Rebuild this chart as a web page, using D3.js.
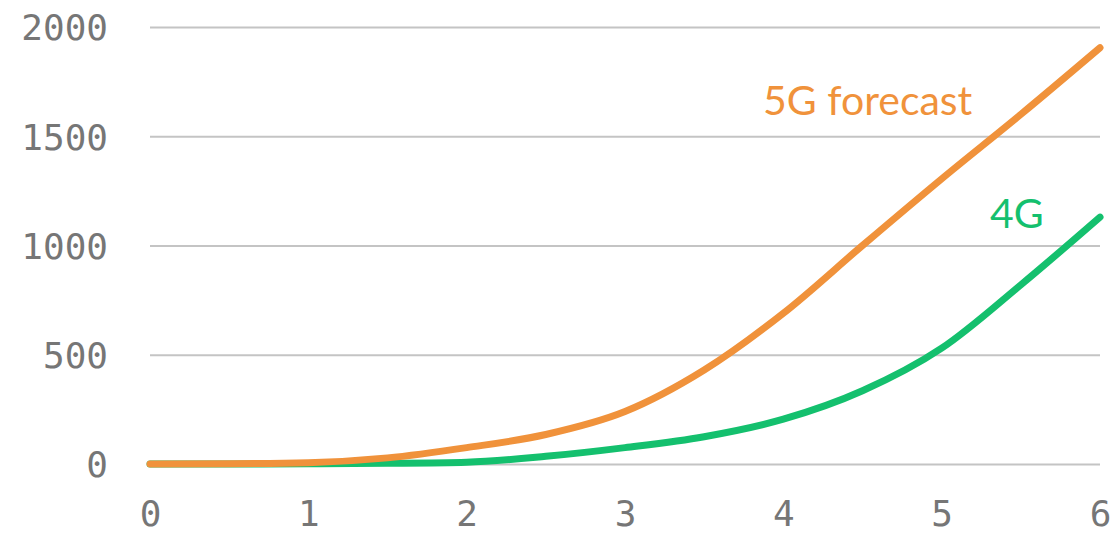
<!DOCTYPE html>
<html>
<head>
<meta charset="utf-8">
<script src="https://cdn.jsdelivr.net/npm/d3@7"></script>
<style>
  html, body { margin: 0; padding: 0; background: #fff; }
  svg { display: block; }
</style>
</head>
<body>
<svg id="chart" width="1115" height="536"></svg>
<script>
// Years since launch and subscriptions (millions)
const years = [0, 0.5, 1, 1.5, 2, 2.5, 3, 3.5, 4, 4.5, 5, 5.5, 6];
const fiveG = [0, 1, 6, 28, 75, 135, 240, 430, 690, 1000, 1305, 1600, 1905];
const fourG = [0, 0, 1, 3, 8, 35, 75, 125, 205, 335, 530, 820, 1130];
const yTicks = [0, 500, 1000, 1500, 2000];
const xTicks = [0, 1, 2, 3, 4, 5, 6];

const svg = d3.select("#chart");
const x = d3.scaleLinear().domain([0, 6]).range([150, 1100]);
const y = d3.scaleLinear().domain([0, 2000]).range([464, 27]);

const mono = "'DejaVu Sans Mono', monospace";

// Horizontal grid
const yAxis = d3.axisLeft(y).tickValues(yTicks).tickSize(-(x.range()[1] - x.range()[0])).tickPadding(42).tickFormat(d3.format("d"));
const gy = svg.append("g").attr("transform", `translate(${x.range()[0]},0)`).call(yAxis);
gy.select(".domain").remove();
gy.selectAll(".tick line").attr("stroke", "#c4c4c4").attr("stroke-width", 2);
gy.selectAll(".tick text").attr("fill", "#767676").attr("font-family", mono).attr("font-size", 36).attr("dy", "0.36em");

// Bottom tick labels
const xAxis = d3.axisBottom(x).tickValues(xTicks).tickSize(0).tickPadding(36).tickFormat(d3.format("d"));
const gx = svg.append("g").attr("transform", `translate(0,${y(0)})`).call(xAxis);
gx.select(".domain").remove();
gx.selectAll(".tick text").attr("fill", "#767676").attr("font-family", mono).attr("font-size", 36);

const line = d3.line().x((d, i) => x(years[i])).y(d => y(d)).curve(d3.curveMonotoneX);

svg.append("path").datum(fourG).attr("d", line).attr("fill", "none")
  .attr("stroke", "#14c06e").attr("stroke-width", 7).attr("stroke-linecap", "round");
svg.append("path").datum(fiveG).attr("d", line).attr("fill", "none")
  .attr("stroke", "#f0923b").attr("stroke-width", 7).attr("stroke-linecap", "round");

// Series labels
svg.append("text").attr("x", 763).attr("y", 115).text("5G forecast")
  .attr("fill", "#f0923b").attr("font-family", "Lato, 'Noto Sans', sans-serif").attr("font-size", 41);
svg.append("text").attr("x", 990).attr("y", 228).text("4G")
  .attr("fill", "#14c06e").attr("font-family", "Lato, 'Noto Sans', sans-serif").attr("font-size", 41);
</script>
</body>
</html>
